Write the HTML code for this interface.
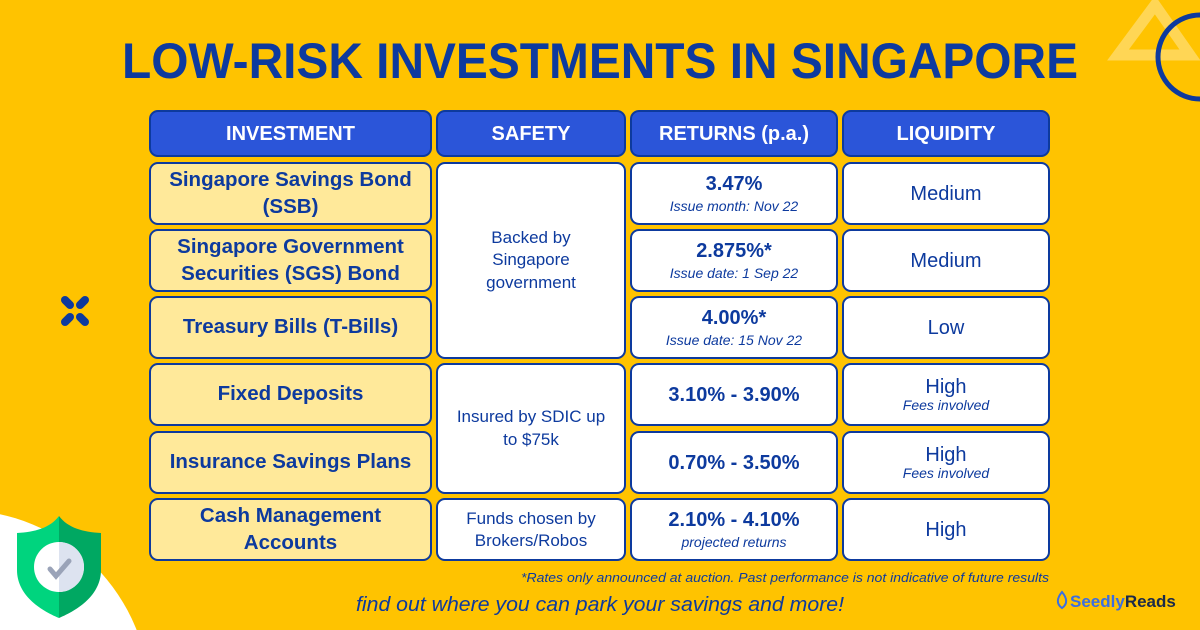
<!DOCTYPE html>
<html><head><meta charset="utf-8"><style>
*{margin:0;padding:0;box-sizing:border-box}
html{width:1200px;height:630px;overflow:hidden}
body{width:1200px;height:630px;overflow:hidden;background:#FFC300;font-family:"Liberation Sans",sans-serif;position:relative;color:#0D3A9E}
svg{display:block}
.c{position:absolute;border:2.5px solid #0D3A9E;border-radius:9px;display:flex;flex-direction:column;align-items:center;justify-content:center;text-align:center;font-weight:bold;line-height:1.3}
.h{background:#2B55D9;color:#fff;font-size:20px}
.n{background:#FFE99A;font-size:20.5px}
.w{background:#fff}
.s{font-size:17px;font-weight:normal}
.r{font-size:20px}
.sub{font-size:14px;font-style:italic;font-weight:normal}
.l{font-size:20px;font-weight:normal}
</style></head><body>
<svg width="1200" height="630" style="position:absolute;left:0;top:0">
<circle cx="-40" cy="700" r="190" fill="#fff"/>
<polygon points="1155,5 1190,55 1118,55" fill="none" stroke="#FFD655" stroke-width="11"/>
<circle cx="1200" cy="57" r="42" fill="none" stroke="#0D3A9E" stroke-width="5"/>
<g stroke="#0D3A9E" stroke-width="8" stroke-linecap="round">
<line x1="65" y1="300" x2="70" y2="305"/><line x1="85" y1="300" x2="80" y2="305"/>
<line x1="65" y1="322" x2="70" y2="317"/><line x1="85" y1="322" x2="80" y2="317"/></g>
<path d="M59,516 C50,528 35,532 17,533 L17,570 C17,595 40,610 59,618 Z" fill="#00D47E"/>
<path d="M59,516 C68,528 83,532 101,533 L101,570 C101,595 78,610 59,618 Z" fill="#00A862"/>
<circle cx="59" cy="567" r="25" fill="#fff"/>
<path d="M59,542 A25,25 0 0 1 59,592 Z" fill="#DDE3F0"/>
<polyline points="50,569 56,576 69,561" fill="none" stroke="#9AA3B8" stroke-width="5" stroke-linecap="round"/>
<text x="600" y="78" text-anchor="middle" font-family="Liberation Sans" font-weight="bold" font-size="50" fill="#0D3A9E" textLength="956" lengthAdjust="spacingAndGlyphs">LOW-RISK INVESTMENTS IN SINGAPORE</text>
<text x="600" y="611" text-anchor="middle" font-family="Liberation Sans" font-style="italic" font-size="20" fill="#0D3A9E" textLength="488" lengthAdjust="spacingAndGlyphs">find out where you can park your savings and more!</text>
<text x="1049" y="582" text-anchor="end" font-family="Liberation Sans" font-style="italic" font-size="13" fill="#0D3A9E" textLength="528" lengthAdjust="spacingAndGlyphs">*Rates only announced at auction. Past performance is not indicative of future results</text>
<path d="M1062,592 C1057,598 1056,604 1062,608 C1068,604 1067,598 1062,592 Z" fill="none" stroke="#3B6EE0" stroke-width="2"/>
<text x="1070" y="607" font-family="Liberation Sans" font-weight="bold" font-size="17" fill="#3B6EE0">Seedly<tspan fill="#1B2A4A">Reads</tspan></text>
</svg>
<div class="c h" style="left:149px;top:110px;width:283px;height:47px">INVESTMENT</div>
<div class="c h" style="left:436px;top:110px;width:190px;height:47px">SAFETY</div>
<div class="c h" style="left:630px;top:110px;width:208px;height:47px">RETURNS (p.a.)</div>
<div class="c h" style="left:842px;top:110px;width:208px;height:47px">LIQUIDITY</div>

<div class="c n" style="left:149px;top:162px;width:283px;height:63px">Singapore Savings Bond<br>(SSB)</div>
<div class="c n" style="left:149px;top:229px;width:283px;height:63px">Singapore Government<br>Securities (SGS) Bond</div>
<div class="c n" style="left:149px;top:296px;width:283px;height:63px">Treasury Bills (T-Bills)</div>
<div class="c n" style="left:149px;top:363px;width:283px;height:63px">Fixed Deposits</div>
<div class="c n" style="left:149px;top:431px;width:283px;height:63px">Insurance Savings Plans</div>
<div class="c n" style="left:149px;top:498px;width:283px;height:63px">Cash Management<br>Accounts</div>

<div class="c w s" style="left:436px;top:162px;width:190px;height:197px">Backed by<br>Singapore<br>government</div>
<div class="c w s" style="left:436px;top:363px;width:190px;height:131px">Insured by SDIC up<br>to $75k</div>
<div class="c w s" style="left:436px;top:498px;width:190px;height:63px;line-height:1.25">Funds chosen by<br>Brokers/Robos</div>

<div class="c w r" style="left:630px;top:162px;width:208px;height:63px">3.47%<span class="sub">Issue month: Nov 22</span></div>
<div class="c w r" style="left:630px;top:229px;width:208px;height:63px">2.875%*<span class="sub">Issue date: 1 Sep 22</span></div>
<div class="c w r" style="left:630px;top:296px;width:208px;height:63px">4.00%*<span class="sub">Issue date: 15 Nov 22</span></div>
<div class="c w r" style="left:630px;top:363px;width:208px;height:63px">3.10% - 3.90%</div>
<div class="c w r" style="left:630px;top:431px;width:208px;height:63px">0.70% - 3.50%</div>
<div class="c w r" style="left:630px;top:498px;width:208px;height:63px">2.10% - 4.10%<span class="sub">projected returns</span></div>

<div class="c w l" style="left:842px;top:162px;width:208px;height:63px">Medium</div>
<div class="c w l" style="left:842px;top:229px;width:208px;height:63px">Medium</div>
<div class="c w l" style="left:842px;top:296px;width:208px;height:63px">Low</div>
<div class="c w l" style="left:842px;top:363px;width:208px;height:63px;line-height:1.1">High<span class="sub">Fees involved</span></div>
<div class="c w l" style="left:842px;top:431px;width:208px;height:63px;line-height:1.1">High<span class="sub">Fees involved</span></div>
<div class="c w l" style="left:842px;top:498px;width:208px;height:63px">High</div>
</body></html>
